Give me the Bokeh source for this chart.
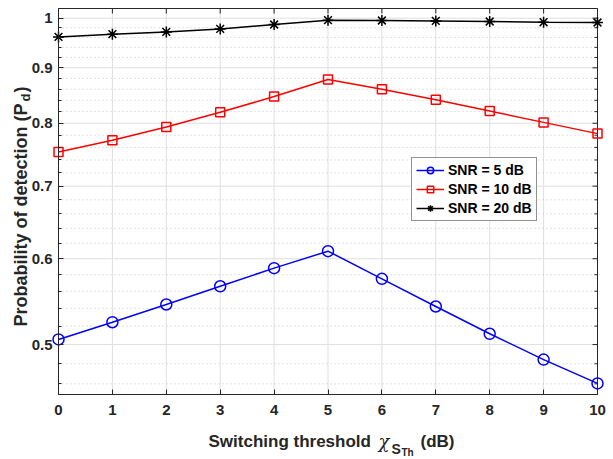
import numpy as np
from bokeh.plotting import figure
from bokeh.models import (FixedTicker, LinearAxis, LogAxis, Label, Legend, Range1d)
from bokeh.embed import file_html
from bokeh.resources import INLINE

# ---- data ----
threshold_db = [0, 1, 2, 3, 4, 5, 6, 7, 8, 9, 10]
pd_snr5 = [0.5055, 0.5243, 0.5444, 0.5659, 0.5881, 0.6097, 0.5749, 0.5421, 0.5116, 0.4843, 0.4604]
pd_snr10 = [0.7526, 0.7716, 0.7937, 0.8188, 0.8467, 0.8778, 0.8600, 0.8410, 0.8210, 0.8015, 0.7826]
pd_snr20 = [0.9610, 0.9666, 0.9713, 0.9775, 0.9867, 0.9958, 0.9951, 0.9943, 0.9930, 0.9915, 0.9909]
series_labels = ["SNR = 5 dB", "SNR = 10 dB", "SNR = 20 dB"]
y_ticks = [0.5, 0.6, 0.7, 0.8, 0.9, 1.0]
y_tick_labels = ["0.5", "0.6", "0.7", "0.8", "0.9", "1"]
y_minor_ticks = [0.46, 0.48, 0.52, 0.54, 0.56, 0.58, 0.62, 0.64, 0.66, 0.68,
                 0.72, 0.74, 0.76, 0.78, 0.82, 0.84, 0.86, 0.88, 0.92, 0.94, 0.96, 0.98]
x_ticks = [0, 1, 2, 3, 4, 5, 6, 7, 8, 9, 10]
x_min, x_max = 0, 10
y_min, y_max = 0.4497, 1.0208

# ---- layout (page pixels) ----
W, H = 613, 459
BL, BR, BT, BB = 58, 597, 8, 394   # plot box left/right/top/bottom
AX = "#262626"
FONT = "Liberation Sans"

# the Bokeh frame covers the whole page; ranges are extended so that the
# data box lands on the pixels above
xs = (BR - BL) / (x_max - x_min)
x_lo = x_min - BL / xs
x_hi = x_max + (W - BR) / xs
ly = (BB - BT) / (np.log10(y_max) - np.log10(y_min))
y_lo = 10 ** (np.log10(y_min) - (H - BB) / ly)
y_hi = 10 ** (np.log10(y_max) + BT / ly)

p = figure(width=W, height=H, output_backend="svg", toolbar_location=None,
           y_axis_type="log", x_range=Range1d(x_lo, x_hi), y_range=Range1d(y_lo, y_hi),
           min_border=0, x_axis_location=None, y_axis_location=None)
p.background_fill_color = "white"
p.border_fill_color = "white"
p.outline_line_color = None
p.grid.visible = False

# grid lines
p.segment(x0=x_ticks, x1=x_ticks, y0=[y_min] * len(x_ticks), y1=[y_max] * len(x_ticks),
          line_color="#dfdfdf", line_width=1)
p.segment(x0=[x_min] * len(y_minor_ticks), x1=[x_max] * len(y_minor_ticks),
          y0=y_minor_ticks, y1=y_minor_ticks, line_color="#c4c4c4", line_width=1,
          line_dash="1 3")
p.segment(x0=[x_min] * len(y_ticks), x1=[x_max] * len(y_ticks), y0=y_ticks, y1=y_ticks,
          line_color="#dfdfdf", line_width=1)

# box
p.quad(left=[x_min], right=[x_max], bottom=[y_min], top=[y_max], fill_color=None,
       line_color=AX, line_width=1)

# axes fixed on the box edges
yt = FixedTicker(ticks=y_ticks, minor_ticks=y_minor_ticks)
xt = FixedTicker(ticks=x_ticks, minor_ticks=[])

def style_axis(ax):
    ax.axis_line_color = AX
    ax.major_tick_in = 5
    ax.major_tick_out = 0
    ax.minor_tick_in = 3
    ax.minor_tick_out = 0
    ax.major_tick_line_color = AX
    ax.minor_tick_line_color = AX
    ax.major_label_text_font = FONT
    ax.major_label_text_font_style = "bold"
    ax.major_label_text_color = AX
    ax.major_label_text_font_size = "15px"

left = LogAxis(ticker=yt, fixed_location=x_min, bounds=(y_min, y_max))
style_axis(left)
left.major_label_overrides = {t: s for t, s in zip(y_ticks, y_tick_labels)}
left.major_label_standoff = 6
p.add_layout(left, "left")

bottom = LinearAxis(ticker=xt, fixed_location=y_min, bounds=(x_min, x_max))
style_axis(bottom)
bottom.major_label_standoff = 10
p.add_layout(bottom, "below")

# inward ticks on the top and right edges
p.ray(x=x_ticks, y=[y_max] * len(x_ticks), length=5, length_units="screen",
      angle=-np.pi / 2, line_color=AX, line_width=1)
p.ray(x=[x_max] * len(y_ticks), y=y_ticks, length=5, length_units="screen",
      angle=np.pi, line_color=AX, line_width=1)
p.ray(x=[x_max] * len(y_minor_ticks), y=y_minor_ticks, length=3, length_units="screen",
      angle=np.pi, line_color=AX, line_width=1)

# series
l1 = p.line(threshold_db, pd_snr5, line_color="#0000ff", line_width=1.5)
s1 = p.scatter(threshold_db, pd_snr5, marker="circle", size=11, line_color="#0000ff",
               fill_color=None, line_width=1.5)
l2 = p.line(threshold_db, pd_snr10, line_color="#ff0000", line_width=1.5)
s2 = p.scatter(threshold_db, pd_snr10, marker="square", size=9, line_color="#ff0000",
               fill_color=None, line_width=1.5)
l3 = p.line(threshold_db, pd_snr20, line_color="#000000", line_width=1.5)
s3 = p.scatter(threshold_db, pd_snr20, marker="asterisk", size=11, line_color="#000000",
               line_width=1.5)

legend = Legend(items=[(series_labels[0], [l1, s1]), (series_labels[1], [l2, s2]),
                       (series_labels[2], [l3, s3])],
                location=(411, H - 221))
legend.label_text_font = FONT
legend.label_text_font_style = "bold"
legend.label_text_font_size = "14px"
legend.label_text_color = "#000000"
legend.glyph_width = 28
legend.glyph_height = 16
legend.label_height = 16
legend.spacing = 3
legend.padding = 4
legend.margin = 0
legend.label_standoff = 4
legend.border_line_color = AX
legend.border_line_width = 1
legend.background_fill_color = "white"
legend.background_fill_alpha = 1
p.add_layout(legend, "center")

# axis titles (screen units: frame == page, origin at bottom-left)
def lab(px, py, text, size, style="bold", angle=0.0, font=FONT):
    p.add_layout(Label(x=px, y=H - py, x_units="screen", y_units="screen", text=text,
                       text_font=font, text_font_size=f"{size}px", text_font_style=style,
                       text_color=AX, angle=angle, text_align="left",
                       text_baseline="alphabetic"))

lab(208, 441, "Switching threshold", 17)
lab(378, 441, "\u03c7", 18, style="italic", font="DejaVu Serif")
lab(391, 448, "S", 14)
lab(401, 452, "Th", 10)
lab(420, 441, "(dB)", 17)

lab(20, 326, "Probability of detection", 18, angle=np.pi / 2)
lab(20, 121, "(P", 18, angle=np.pi / 2)
lab(25, 101, "d", 13, angle=np.pi / 2)
lab(20, 92, ")", 18, angle=np.pi / 2)

open("out.html", "w").write(file_html(p, INLINE))
